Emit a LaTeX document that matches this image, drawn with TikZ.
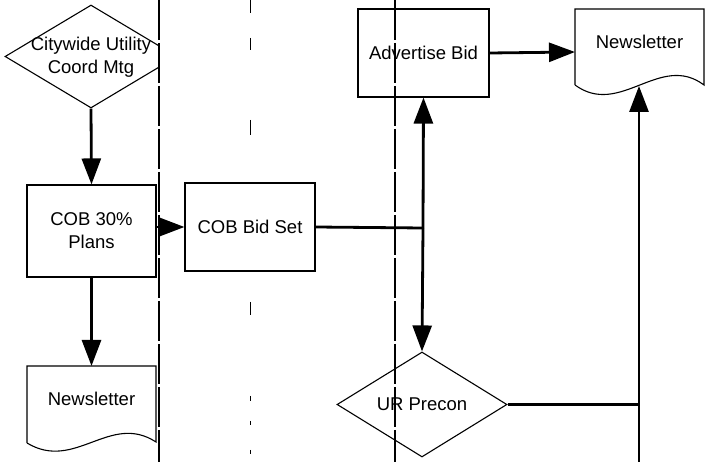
\documentclass[tikz,border=0pt]{standalone}
\usepackage{fontspec}
\setmainfont{Liberation Sans}
\usetikzlibrary{arrows.meta,shapes.geometric}
\begin{document}
\begin{tikzpicture}[x=1pt,y=-1pt,
  box/.style={draw,line width=1.1pt,rectangle,inner sep=0pt},
  dia/.style={draw,line width=1.1pt,diamond,inner sep=0pt},
  doc/.style={draw,line width=1.1pt},
  txt/.style={font=\fontsize{18.5}{23}\selectfont,align=center,inner sep=0pt},
  conn/.style={line width=2.8pt},
  arr/.style={line width=2.8pt,-{Triangle[length=26pt,width=19pt]}},
  lane/.style={line width=1.1pt,dash pattern=on 40pt off 3pt},
  faint/.style={line width=1pt}]
\useasboundingbox (0,0) rectangle (713,462);
\fill[white] (0,0) rectangle (713,462);
% lane lines
\draw[lane] (159,0) -- (159,462);
\draw[lane] (395,0) -- (395,462);
\foreach \a/\b in {0/13,38/50,120/135,302/315,396/401,421/425,450/454}
  \draw[faint] (250,\a) -- (250,\b);
% Citywide diamond (clipped by lane)
\begin{scope}
  \clip (0,0) rectangle (159,462);
  \node[dia,minimum width=172pt,minimum height=103pt] (cw) at (91,56.5) {};
\end{scope}
\node[txt] (cwt) at (91,57) {Citywide Utility\\Coord Mtg};
% boxes
\node[box,minimum width=129pt,minimum height=92pt] (p30) at (91.5,231) {};
\node[txt] at (91.5,231) {COB 30\%\\Plans};
\node[box,minimum width=130pt,minimum height=88pt] (bid) at (250,227) {};
\node[txt] at (250,227) {COB Bid Set};
\node[box,minimum width=131pt,minimum height=88pt] (adv) at (423.5,53) {};
\node[txt] at (423.5,53) {Advertise Bid};
% UR Precon diamond
\node[dia,minimum width=170pt,minimum height=105pt] (urp) at (422,404.5) {};
\node[txt] at (422,404.5) {UR Precon};
% Newsletter left
\draw[doc] (27,443) -- (27,366) -- (156,366) -- (156,442)
  .. controls (110,412) and (75,472) .. (27,443);
\coordinate (nl1top) at (91.5,366);
\node[txt] (nl1) at (91.5,399) {Newsletter};
% Newsletter right
\draw[doc] (575,85) -- (575,9) -- (704,9) -- (704,85)
  .. controls (660,52) and (620,118) .. (575,85);
\coordinate (nl2west) at (575,52);
\coordinate (nl2bot) at (639,86);
\node[txt] (nl2) at (639.5,42) {Newsletter};
% junctions
\coordinate (j1) at (423,228);
\coordinate (j2) at (639,404.5);
\coordinate (rbot) at (639,462);
% connectors
\draw[arr] (cw.south) -- (p30.north);
\draw[arr] (p30.south) -- (nl1top);
\draw[arr] (p30.east |- bid.west) -- (bid.west);
\draw[conn] (bid.east) -- (j1);
\draw[arr] (j1) -- (adv.south);
\draw[arr] (j1) -- (urp.north);
\draw[arr] (adv.east) -- (nl2west);
\draw[conn] (urp.east) -- (j2);
\draw[arr] (rbot) -- (nl2bot);
\end{tikzpicture}
\end{document}
